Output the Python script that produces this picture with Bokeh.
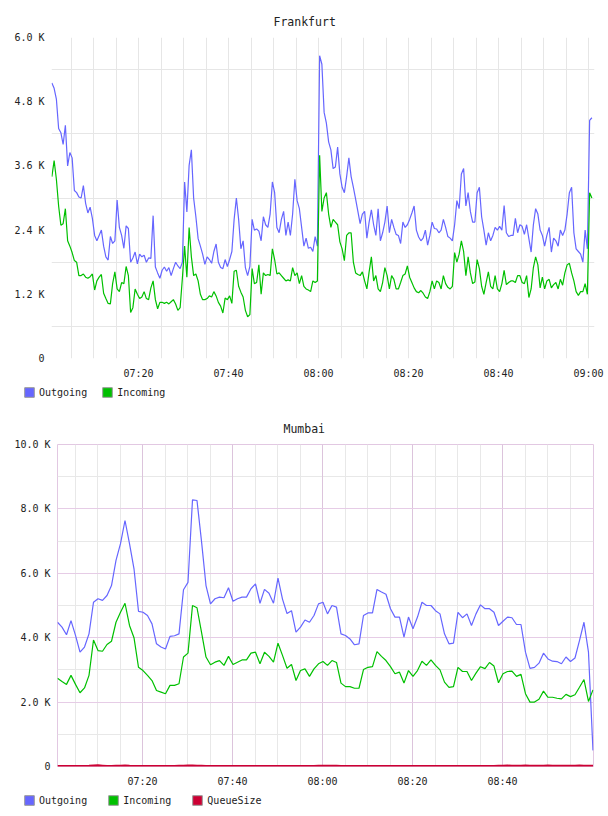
import pandas as pd
from bokeh.plotting import figure
from bokeh.layouts import column
from bokeh.models import (Range1d, FixedTicker, DatetimeTickFormatter, Grid,
                          Legend, LegendItem)
from bokeh.embed import file_html
from bokeh.resources import INLINE

FONT = "DejaVu Sans Mono"
OUT_C = "#6666ff"
IN_C = "#00c000"
Q_C = "#cc0033"
DAY = "2024-01-01 "

# ---------------- data ----------------
frankfurt_start = DAY + "07:00:45"
frankfurt_step = "30s"
frankfurt_outgoing = [
    5150, 5050, 4850, 4300, 4220, 4000, 4360, 3600, 3850, 3750,
    3140, 3100, 3020, 3000, 3230, 2900, 2720, 2830, 2620, 2300,
    2200, 2300, 2400, 2100, 1900, 1840, 2280, 2150, 2200, 2960,
    2450, 2300, 2060, 2480, 2430, 1800, 1880, 1990, 1770, 1950,
    1900, 1930, 1800, 1880, 1870, 2670, 1710, 1600, 1500, 1650,
    1710, 1630, 1700, 1550, 1680, 1800, 1730, 1680, 1800, 3300,
    2740, 3610, 3900, 3000, 2650, 2240, 2100, 1950, 1760, 1900,
    1850, 1780, 2000, 2140, 1800, 1700, 1680, 1850, 1720, 1850,
    2000, 2600, 3000, 2600, 2050, 2200, 1700, 1550, 1720, 2600,
    2400, 2420, 2380, 2200, 2650, 2500, 2450, 2700, 3300, 3100,
    2450, 2350, 2600, 2750, 2300, 2550, 2300, 2700, 3350, 2950,
    2800, 2450, 2100, 2250, 2060, 2080, 2000, 2280, 2100, 5660,
    5500, 4600, 4400, 4050, 3900, 3550, 3580, 3950, 3450, 3200,
    3100, 3400, 3750, 3400, 3200, 2980, 2750, 2520, 2700, 2750,
    2250, 2550, 2780, 2500, 2300, 2800, 2200, 2350, 2550, 2850,
    2350, 2600, 2450, 2320, 2300, 2150, 2550, 2450, 2500, 2600,
    2720, 2850, 2400, 2270, 2200, 2250, 2400, 2120, 2300, 2550,
    2430, 2420, 2350, 2400, 2600, 2450, 2280, 2250, 2200, 2500,
    2950, 2800, 3450, 3550, 2850, 3100, 2750, 2550, 2550, 3100,
    3200, 2650, 2400, 2120, 2350, 2200, 2300, 2450, 2400, 2470,
    2400, 2860, 2350, 2280, 2300, 2300, 2620, 2350, 2500, 2470,
    2320, 2500, 2240, 1990, 2500, 2800, 2700, 2400, 2300, 2100,
    2300, 2450, 1990, 2250, 2200, 2100, 2400, 2300, 2400, 2700,
    3100, 3200, 2350, 2050, 2000, 1950, 1800, 2400, 2050, 4450,
    4500,
]
frankfurt_incoming = [
    3400, 3700, 3350, 2850, 2490, 2520, 2800, 2200, 2100, 1980,
    1830, 1800, 1550, 1550, 1580, 1520, 1500, 1530, 1580, 1280,
    1450, 1520, 1570, 1220, 1120, 1030, 1020, 1400, 1620, 1300,
    1250, 1420, 1400, 1720, 1550, 860, 950, 1300, 1200, 1120,
    1150, 1250, 1120, 1100, 1320, 1450, 1100, 930, 1050, 1050,
    1030, 1050, 1020, 1060, 1100, 1020, 900, 950, 1500, 2100,
    1520, 2450, 1900, 1550, 1580, 1450, 1200, 1100, 1100, 1120,
    1170, 1150, 1250, 1170, 1050, 980, 850, 1130, 1100, 1170,
    1030, 1630, 1650, 1350, 1240, 1150, 900, 780, 820, 1680,
    1400, 1420, 1750, 1200, 1600, 1550, 1570, 1550, 2050, 1850,
    1580, 1600, 1550, 1500, 1450, 1470, 1450, 1700, 1550, 1600,
    1400, 1550, 1350, 1300, 1280, 1250, 1450, 1420, 1450, 3800,
    2750, 3000, 3100, 2700, 2450, 2600, 2550, 2500, 2180, 2050,
    1830, 2300, 2350, 2350, 1800, 1600, 1570, 1550, 1620, 1450,
    1300, 1620, 1900, 1450, 1550, 1300, 1250, 1420, 1700, 1550,
    1300, 1550, 1480, 1300, 1300, 1420, 1550, 1580, 1730, 1520,
    1420, 1320, 1250, 1230, 1270, 1220, 1150, 1120, 1250, 1450,
    1300, 1450, 1420, 1300, 1550, 1400, 1330, 1300, 1350, 1980,
    1800, 1950, 2200, 2000, 1550, 1900, 1600, 1400, 1430, 1850,
    1680, 1350, 1200, 1420, 1620, 1350, 1300, 1550, 1300, 1250,
    1400, 1650, 1380, 1420, 1450, 1450, 1420, 1550, 1550, 1420,
    1400, 1550, 1140, 1300, 1700, 1900, 1750, 1320, 1520, 1300,
    1450, 1480, 1320, 1380, 1420, 1300, 1480, 1370, 1600, 1750,
    1780, 1600, 1450, 1250, 1180, 1250, 1250, 1400, 1200, 3100,
    3000,
]

mumbai_start = DAY + "07:01:06"
mumbai_step = "60s"
mumbai_outgoing = [
    4480, 4330, 4090, 4530, 4070, 3550, 3710, 4120, 5100, 5210,
    5160, 5310, 5620, 6400, 6920, 7640, 6920, 6140, 4820, 4790,
    4690, 4430, 3810, 3710, 3650, 4040, 4060, 4120, 5490, 5720,
    8280, 8260, 7000, 5620, 5050, 5210, 5260, 5240, 5550, 5130,
    5210, 5260, 5260, 5520, 5670, 5070, 5500, 5380, 5070, 5850,
    5200, 4750, 4840, 4170, 4330, 4550, 4480, 4690, 5050, 5100,
    4740, 5000, 4950, 4120, 4070, 3960, 3780, 3810, 4690, 4770,
    4770, 5500, 5420, 5350, 4900, 4640, 4640, 4020, 4640, 4280,
    4640, 5100, 5000, 5000, 4840, 4740, 4120, 3810, 3830, 4790,
    4620, 4740, 4380, 4740, 5020, 4900, 4900, 4790, 4380, 4510,
    4640, 4620, 4410, 4410, 3550, 3050, 3080, 3210, 3520, 3340,
    3270, 3260, 3190, 3400, 3260, 3370, 3910, 4480, 3550, 500,
]
mumbai_incoming = [
    2740, 2640, 2550, 2830, 2550, 2290, 2440, 2830, 3930, 3600,
    3580, 3790, 3890, 4480, 4790, 5070, 4380, 4000, 3080, 2980,
    2830, 2670, 2360, 2310, 2260, 2520, 2520, 2570, 3400, 3520,
    5000, 4930, 4170, 3400, 3160, 3240, 3290, 3140, 3420, 3170,
    3240, 3310, 3310, 3520, 3550, 3190, 3550, 3420, 3240, 3830,
    3450, 3050, 3170, 2670, 2980, 3030, 2800, 3030, 3190, 3260,
    3140, 3290, 3230, 2590, 2480, 2480, 2430, 2430, 3010, 3080,
    3100, 3570, 3420, 3290, 3100, 2880, 2930, 2590, 2980, 2800,
    2980, 3270, 3140, 3310, 3140, 3000, 2620, 2460, 2480, 3080,
    2950, 2950, 2670, 2900, 3100, 3040, 3230, 3120, 2600, 2880,
    2950, 2960, 2800, 2860, 2260, 2000, 2000, 2090, 2340, 2150,
    2150, 2120, 2100, 2240, 2170, 2230, 2460, 2700, 2020, 2380,
]
mumbai_queue = [
    0, 0, 0, 0, 0, 0, 0, 5, 15, 20,
    10, 0, 0, 5, 10, 12, 5, 0, 0, 0,
    0, 0, 0, 0, 0, 0, 0, 5, 10, 15,
    18, 10, 5, 0, 0, 0, 0, 0, 0, 0,
    0, 0, 0, 0, 0, 0, 0, 0, 0, 0,
    0, 0, 0, 0, 0, 0, 0, 0, 5, 8,
    10, 8, 5, 0, 0, 0, 0, 0, 0, 0,
    0, 0, 0, 0, 0, 0, 0, 0, 0, 0,
    0, 0, 0, 0, 0, 0, 0, 0, 0, 0,
    0, 0, 0, 0, 0, 0, 0, 0, 5, 10,
    12, 10, 8, 10, 12, 10, 8, 10, 10, 12,
    10, 10, 10, 10, 10, 10, 12, 10, 10, 5,
]

frankfurt_time_labels = ["07:20", "07:40", "08:00", "08:20", "08:40", "09:00"]
mumbai_time_labels = ["07:20", "07:40", "08:00", "08:20", "08:40"]
frankfurt_y_ticks = [0, 1200, 2400, 3600, 4800, 6000]
frankfurt_y_labels = ["0", "1.2 K", "2.4 K", "3.6 K", "4.8 K", "6.0 K"]
mumbai_y_ticks = [0, 2000, 4000, 6000, 8000, 10000]
mumbai_y_labels = ["0", "2.0 K", "4.0 K", "6.0 K", "8.0 K", "10.0 K"]


def ms(t):
    return pd.Timestamp(t).value // 10**6


fr_times = pd.date_range(frankfurt_start, periods=len(frankfurt_outgoing), freq=frankfurt_step)
mu_times = pd.date_range(mumbai_start, periods=len(mumbai_outgoing), freq=mumbai_step)

five_min = [ms(t) for t in pd.date_range(DAY + "07:05", DAY + "09:00", freq="5min")]
fr_label_ticks = [ms(DAY + t) for t in frankfurt_time_labels]
mu_label_ticks = [ms(DAY + t) for t in mumbai_time_labels]


def make_fmt():
    return DatetimeTickFormatter(microseconds="%H:%M", milliseconds="%H:%M", seconds="%H:%M",
                                 minsec="%H:%M", minutes="%H:%M", hourmin="%H:%M",
                                 hours="%H:%M", days="%H:%M", months="%H:%M", years="%H:%M")


def style_axes(p, xticks, yticks, ylabels):
    p.xaxis.ticker = FixedTicker(ticks=xticks)
    p.xaxis.formatter = make_fmt()
    p.yaxis.ticker = FixedTicker(ticks=yticks)
    p.yaxis.major_label_overrides = {t: l for t, l in zip(yticks, ylabels)}
    for ax in (p.xaxis, p.yaxis):
        ax.axis_line_color = None
        ax.major_tick_line_color = None
        ax.minor_tick_line_color = None
        ax.major_tick_out = 0
        ax.major_tick_in = 0
        ax.major_label_text_font = FONT
        ax.major_label_text_font_size = "10px"
        ax.major_label_text_color = "#222222"
    p.xaxis.major_label_standoff = 9
    p.yaxis.major_label_standoff = 7
    p.xgrid.visible = False
    p.ygrid.visible = False


def style_title(p, offset):
    p.title.align = "left"
    p.title.offset = offset
    p.title.standoff = 17
    p.title.text_font = FONT
    p.title.text_font_size = "11.5px"
    p.title.text_font_style = "normal"
    p.title.text_color = "#222222"


def add_grid(p, dim, ticks, color):
    p.add_layout(Grid(dimension=dim, ticker=FixedTicker(ticks=ticks),
                      grid_line_color=color, grid_line_width=1))


def legend_fig(names, colors, spacing):
    lf = figure(width=608, height=24, x_range=Range1d(0, 608), y_range=Range1d(0, 24),
                x_axis_location=None, y_axis_location=None, min_border=0,
                output_backend="svg", toolbar_location=None, frame_align=False,
                background_fill_color="white", border_fill_color="white")
    lf.outline_line_color = None
    lf.grid.visible = False
    items = []
    for n, c in zip(names, colors):
        # swatch renderer kept outside the visible range; only its legend entry shows
        r = lf.quad(left=[-20], right=[-10], top=[-10], bottom=[-20],
                    fill_color=c, line_color="#999999")
        items.append(LegendItem(label=n, renderers=[r]))
    lg = Legend(items=items, location=(23, 10), orientation="horizontal",
                glyph_width=12, glyph_height=12, label_standoff=4, spacing=spacing,
                padding=0, margin=0, border_line_color=None, background_fill_alpha=0,
                label_text_font=FONT, label_text_font_size="10px",
                label_text_color="#222222", label_height=12)
    lf.add_layout(lg)
    return lf


# ---------------- Frankfurt ----------------
p1 = figure(width=608, height=384, x_axis_type="datetime",
            x_range=Range1d(pd.Timestamp(DAY + "07:00:40"), pd.Timestamp(DAY + "09:01:20")),
            y_range=Range1d(0, 6000), output_backend="svg", toolbar_location=None,
            min_border_left=51, min_border_right=14, min_border_top=37, min_border_bottom=26,
            title="Frankfurt", frame_align=False,
            background_fill_color="white", border_fill_color="white")
p1.outline_line_color = None
style_title(p1, 222)
style_axes(p1, fr_label_ticks, frankfurt_y_ticks, frankfurt_y_labels)
add_grid(p1, 0, five_min, "#e6e6e6")
add_grid(p1, 1, [600, 1800, 3000, 4200, 5400], "#e6e6e6")
p1.line(fr_times, frankfurt_outgoing, line_color=OUT_C, line_width=1.2)
p1.line(fr_times, frankfurt_incoming, line_color=IN_C, line_width=1.2)
leg1 = legend_fig(["Outgoing", "Incoming"], [OUT_C, IN_C], 14)

# ---------------- Mumbai ----------------
p2 = figure(width=608, height=384, x_axis_type="datetime",
            x_range=Range1d(pd.Timestamp(DAY + "07:01:06"), pd.Timestamp(DAY + "09:00:13")),
            y_range=Range1d(0, 10000), output_backend="svg", toolbar_location=None,
            min_border_left=57, min_border_right=15, min_border_top=36, min_border_bottom=26,
            title="Mumbai", frame_align=False,
            background_fill_color="white", border_fill_color="white")
p2.outline_line_color = "#e2c8e2"
p2.outline_line_width = 1
style_title(p2, 226)
style_axes(p2, mu_label_ticks, mumbai_y_ticks, mumbai_y_labels)
minor_x = [t for t in five_min if t not in fr_label_ticks]
add_grid(p2, 0, minor_x, "#e8e8e8")
add_grid(p2, 1, [1000, 3000, 5000, 7000, 9000], "#e8e8e8")
add_grid(p2, 0, mu_label_ticks, "#dcc4dc")
add_grid(p2, 1, [2000, 4000, 6000, 8000], "#e6cce6")
p2.line(mu_times, mumbai_outgoing, line_color=OUT_C, line_width=1.2)
p2.line(mu_times, mumbai_incoming, line_color=IN_C, line_width=1.2)
p2.line(mu_times, mumbai_queue, line_color=Q_C, line_width=3)
leg2 = legend_fig(["Outgoing", "Incoming", "QueueSize"], [OUT_C, IN_C, Q_C], 20)

layout = column(p1, leg1, p2, leg2, spacing=0)
open("out.html", "w").write(file_html(layout, INLINE))
